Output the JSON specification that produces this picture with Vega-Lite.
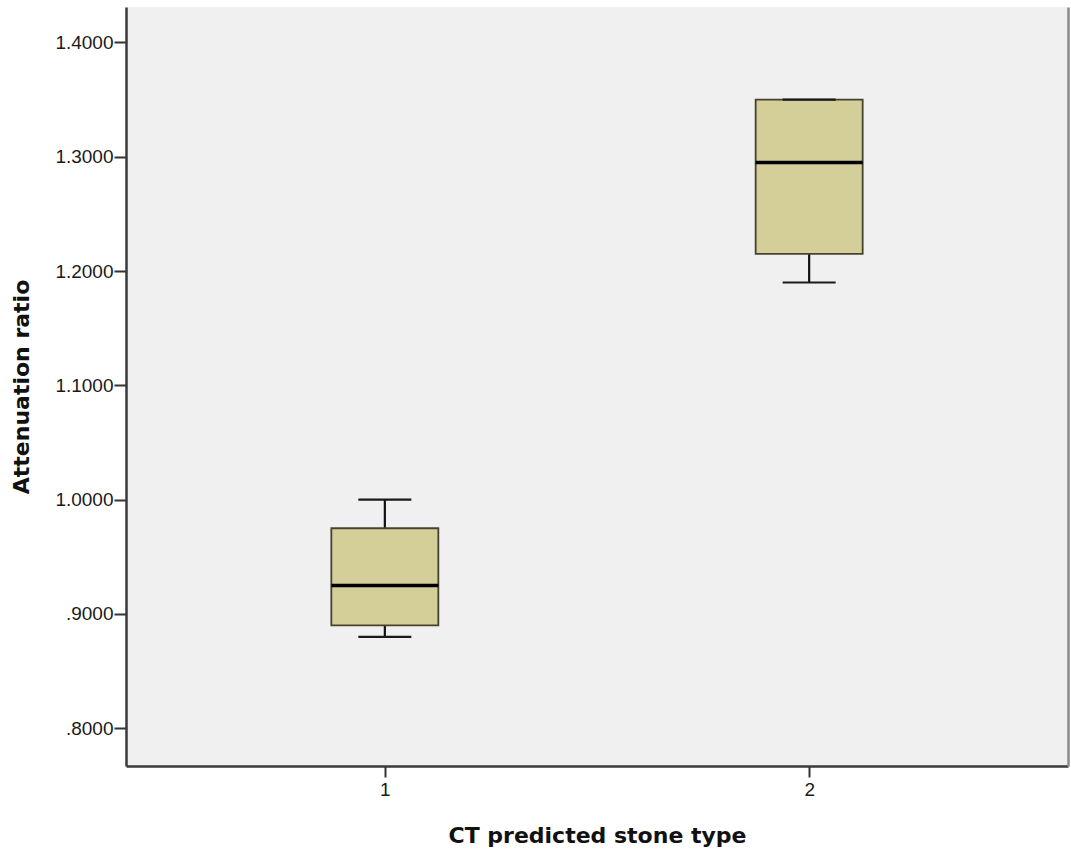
{
  "$schema": "https://vega.github.io/schema/vega-lite/v6.json",
  "width": 942,
  "height": 759,
  "autosize": {"type": "none"},
  "padding": {"left": 126, "top": 7, "right": 3, "bottom": 85},
  "background": "white",
  "config": {
    "view": {"fill": "#F0F0F0", "stroke": null},
    "axis": {
      "grid": false,
      "labelFont": "Liberation Sans",
      "labelFontSize": 19,
      "labelColor": "#1a1a1a",
      "tickColor": "#333333",
      "tickWidth": 2,
      "tickSize": 12,
      "domainColor": "#3a3a3a",
      "domainWidth": 2.5,
      "titleFont": "DejaVu Sans",
      "titleFontWeight": "bold",
      "titleFontSize": 22,
      "titleColor": "#111111"
    }
  },
  "data": {
    "values": [
      {"type": "1", "min": 0.88, "q1": 0.89, "median": 0.925, "q3": 0.975, "max": 1.0},
      {"type": "2", "min": 1.19, "q1": 1.215, "median": 1.295, "q3": 1.35, "max": 1.35}
    ]
  },
  "encoding": {
    "x": {
      "field": "type",
      "type": "ordinal",
      "scale": {"type": "point", "padding": 0.61},
      "axis": {"labelAngle": 0, "labelPadding": 3, "tickSize": 11, "title": "CT predicted stone type", "titlePadding": 26}
    }
  },
  "resolve": {"axis": {"y": "independent"}},
  "layer": [
    {
      "mark": {"type": "rule", "color": "#111111", "strokeWidth": 2.2},
      "encoding": {
        "y": {
          "field": "min",
          "type": "quantitative",
          "scale": {"domain": [0.767, 1.431], "nice": false, "zero": false},
          "axis": {
            "orient": "left",
            "values": [0.8, 0.9, 1.0, 1.1, 1.2, 1.3, 1.4],
            "labelExpr": "datum.value < 1 ? slice(format(datum.value, '.4f'), 1) : format(datum.value, '.4f')",
            "labelPadding": 1,
            "title": "Attenuation ratio",
            "titlePadding": 21
          }
        },
        "y2": {"field": "max"}
      }
    },
    {
      "mark": {"type": "bar", "size": 107, "fill": "#D4CF99", "stroke": "#45432f", "strokeWidth": 1.8},
      "encoding": {
        "y": {
          "field": "q1",
          "type": "quantitative",
          "axis": {
            "orient": "right",
            "ticks": false,
            "labels": false,
            "title": null,
            "domainColor": "#8a8a8a",
            "domainWidth": 2.5
          }
        },
        "y2": {"field": "q3"}
      }
    },
    {
      "mark": {"type": "tick", "size": 107, "thickness": 3.5, "color": "#000000", "opacity": 1},
      "encoding": {
        "y": {"field": "median", "type": "quantitative", "axis": null}
      }
    },
    {
      "mark": {"type": "tick", "size": 53, "thickness": 2.2, "color": "#1a1a1a", "opacity": 1},
      "encoding": {
        "y": {"field": "min", "type": "quantitative", "axis": null}
      }
    },
    {
      "mark": {"type": "tick", "size": 53, "thickness": 2.2, "color": "#1a1a1a", "opacity": 1},
      "encoding": {
        "y": {"field": "max", "type": "quantitative", "axis": null}
      }
    }
  ]
}
